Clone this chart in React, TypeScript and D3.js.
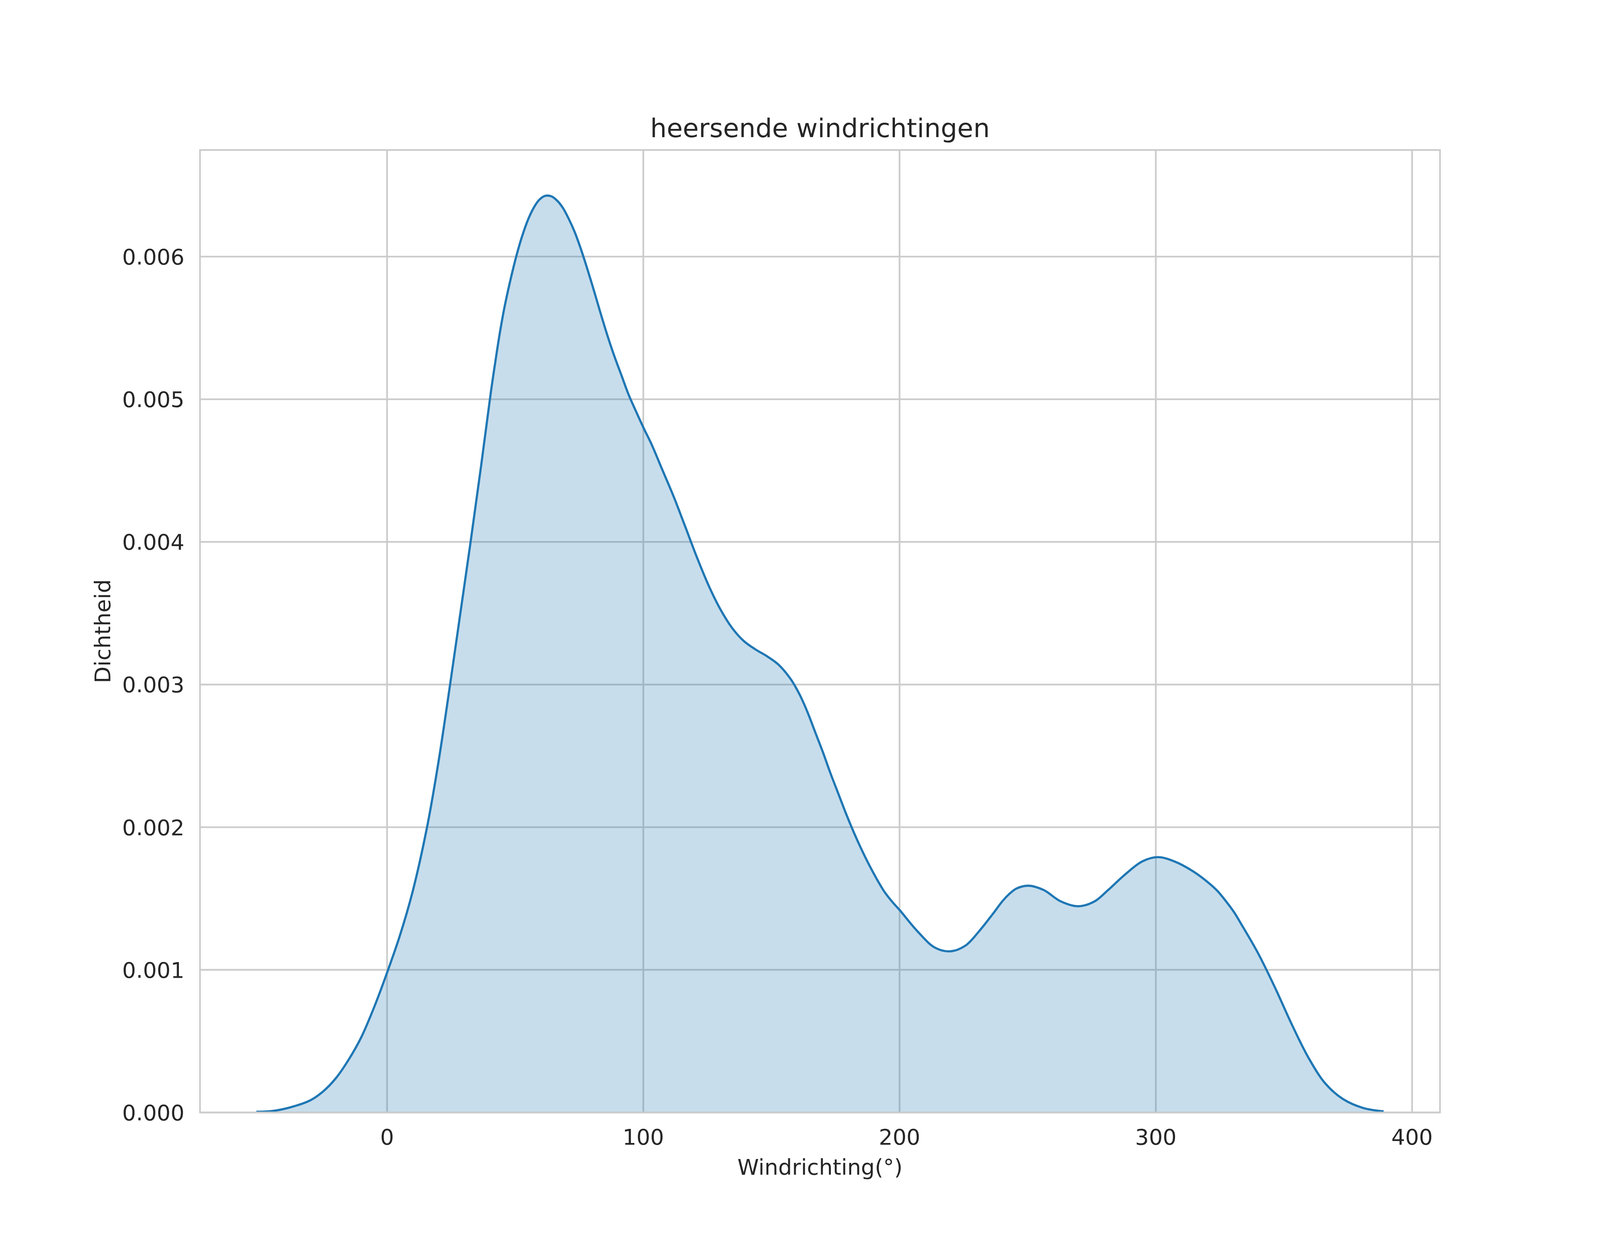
import React, { useEffect, useState } from "react";
import * as d3 from "d3";

const windDirection: number[] = [
  -51, -45, -38, -30, -25, -20, -15, -10, -5, 0, 5, 10, 15.6, 20, 24.6, 28.6, 32.6, 36.6, 40.56,
  42.16, 43.98, 45.8, 48.09, 50.6, 52.65, 55.15, 57.44, 59.5, 61.78, 64.06, 66.34, 68.6, 70.9, 73.19,
  75.47, 77.75, 80.48, 83.23, 85.96, 88.7, 91.43, 94.16, 96.9, 100.1, 103.3, 107.2, 111.8, 116.3,
  120.9, 125.4, 130.0, 134.6, 139.1, 143.7, 148.3, 152.8, 157.4, 161, 164, 167, 170, 173, 176, 179,
  182, 185, 188, 191, 194, 197, 200, 207, 213.8, 219.8, 225.7, 231, 236.3, 240.3, 243, 245.6, 250.3,
  256.2, 262.9, 269.8, 276.1, 281.4, 288.1, 294.7, 300.7, 307.3, 314.6, 320.6, 324, 327.2, 330.5,
  333.2, 339.8, 346.4, 353, 359.7, 366.3, 373, 380.9, 388.9,
];

const density: number[] = [
  0.000005, 0.00001, 0.000035, 0.000085, 0.000147, 0.00024, 0.00037, 0.00053, 0.00074, 0.00098,
  0.00124, 0.00155, 0.002, 0.00245, 0.003, 0.0035, 0.004, 0.00452, 0.005057,
  0.005252, 0.005462, 0.005643, 0.005832, 0.006014, 0.00614, 0.006265, 0.006349, 0.0064, 0.006426,
  0.006423, 0.006393, 0.006342, 0.006265, 0.006174,
  0.006062, 0.005937, 0.005777, 0.005609, 0.005449, 0.005302, 0.00517, 0.005037, 0.004925, 0.004799,
  0.004681, 0.004515, 0.00432, 0.00411,
  0.003893, 0.003698, 0.00353, 0.003398, 0.003307, 0.003247, 0.003198, 0.003139, 0.003041, 0.00293,
  0.00281, 0.00267, 0.00253, 0.00238, 0.00224, 0.0021,
  0.00197, 0.00185, 0.00174, 0.00164, 0.00155, 0.00148, 0.00142, 0.00127, 0.001156, 0.00113, 0.00117,
  0.00127, 0.00139, 0.001485, 0.001535, 0.00157, 0.00159,
  0.00156, 0.00148, 0.001446, 0.00148, 0.00156, 0.00167, 0.00176, 0.00179, 0.00176, 0.00169, 0.00161,
  0.001554, 0.001485, 0.001405,
  0.001325, 0.00112, 0.00088, 0.00062, 0.00038, 0.0002, 0.000095, 0.000032, 0.000008,
];

const xTicks: number[] = [0, 100, 200, 300, 400];
const yTicks: number[] = [0, 0.001, 0.002, 0.003, 0.004, 0.005, 0.006];

const title = "heersende windrichtingen";
const xLabel = "Windrichting(°)";
const yLabel = "Dichtheid";

const textColor = "#262626";
const gridColor = "#cccccc";
const lineColor = "#1f77b4";
const font = "'DejaVu Sans', sans-serif";

function getSize() {
  const w = typeof window !== "undefined" && window.innerWidth ? window.innerWidth : 4800;
  const h = typeof window !== "undefined" && window.innerHeight ? window.innerHeight : 3200;
  return { w, h };
}

export default function App() {
  const [size, setSize] = useState(getSize());
  useEffect(() => {
    document.body.style.margin = "0";
    document.body.style.overflow = "hidden";
    const onResize = () => setSize(getSize());
    window.addEventListener("resize", onResize);
    onResize();
    return () => window.removeEventListener("resize", onResize);
  }, []);

  const W = size.w;
  const H = size.h;
  const s = H / 3200;
  const left = 0.125 * W;
  const right = 0.9 * W;
  const top = 0.12 * H;
  const bottom = 0.89 * H;

  const pts = windDirection.map((x, i) => [x, density[i]] as [number, number]);
  const xmin = d3.min(windDirection)!;
  const xmax = d3.max(windDirection)!;
  const span = xmax - xmin;
  const x = d3.scaleLinear().domain([xmin - 0.05 * span, xmax + 0.05 * span]).range([left, right]);
  const ymax = d3.max(density)! * 1.05;
  const y = d3.scaleLinear().domain([0, ymax]).range([bottom, top]);

  const curve = d3.curveCatmullRom.alpha(0.5);
  const line = d3
    .line<[number, number]>()
    .x((d) => x(d[0]))
    .y((d) => y(d[1]))
    .curve(curve);
  const area = d3
    .area<[number, number]>()
    .x((d) => x(d[0]))
    .y0(y(0))
    .y1((d) => y(d[1]))
    .curve(curve);

  const fmt = d3.format(".3f");
  const tickFs = 55.6 * s;
  const gw = 4.4 * s;

  return (
    <svg
      width={W}
      height={H}
      viewBox={`0 0 ${W} ${H}`}
      style={{ display: "block", background: "#ffffff" }}
      fontFamily={font}
    >
      <rect x={0} y={0} width={W} height={H} fill="#ffffff" />
      {xTicks.map((t) => (
        <line key={"gx" + t} x1={x(t)} x2={x(t)} y1={top} y2={bottom} stroke={gridColor} strokeWidth={gw} />
      ))}
      {yTicks.map((t) => (
        <line key={"gy" + t} x1={left} x2={right} y1={y(t)} y2={y(t)} stroke={gridColor} strokeWidth={gw} />
      ))}
      <path d={area(pts) || ""} fill={lineColor} fillOpacity={0.25} stroke="none" />
      <path
        d={line(pts) || ""}
        fill="none"
        stroke={lineColor}
        strokeWidth={5.6 * s}
        strokeLinejoin="round"
        strokeLinecap="butt"
      />
      <rect x={left} y={top} width={right - left} height={bottom - top} fill="none" stroke={gridColor} strokeWidth={gw} />
      {xTicks.map((t) => (
        <text key={"tx" + t} x={x(t)} y={bottom + 82 * s} textAnchor="middle" fontSize={tickFs} fill={textColor}>
          {String(t)}
        </text>
      ))}
      {yTicks.map((t) => (
        <text key={"ty" + t} x={left - 40 * s} y={y(t) + 20 * s} textAnchor="end" fontSize={tickFs} fill={textColor}>
          {fmt(t)}
        </text>
      ))}
      <text x={(left + right) / 2} y={top - 33 * s} textAnchor="middle" fontSize={66.7 * s} fill={textColor}>
        {title}
      </text>
      <text x={(left + right) / 2} y={bottom + 159 * s} textAnchor="middle" fontSize={tickFs} fill={textColor}>
        {xLabel}
      </text>
      <text
        x={0}
        y={0}
        transform={`translate(${left - 230 * s}, ${(top + bottom) / 2}) rotate(-90)`}
        textAnchor="middle"
        fontSize={tickFs}
        fill={textColor}
      >
        {yLabel}
      </text>
    </svg>
  );
}
